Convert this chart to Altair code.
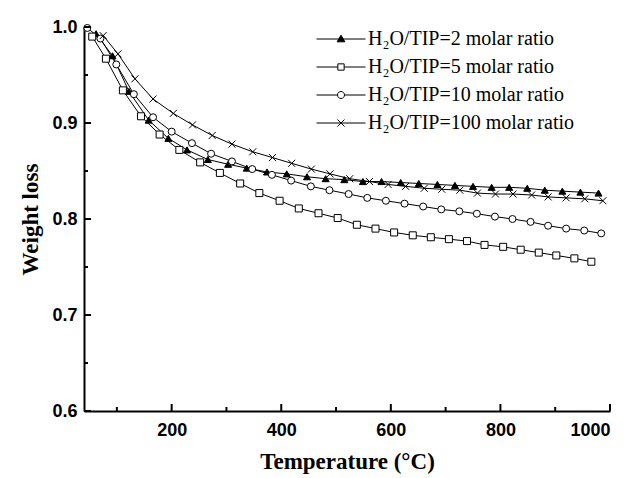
import altair as alt
import pandas as pd

series_names = ["H₂O/TIP=2 molar ratio", "H₂O/TIP=5 molar ratio",
                "H₂O/TIP=10 molar ratio", "H₂O/TIP=100 molar ratio"]

t_r2 = [62, 92, 122, 158, 194, 228, 266, 303, 337, 374, 410, 447, 481, 515, 549, 583,
        618, 651, 685, 717, 750, 784, 816, 849, 881, 913, 946, 979]
w_r2 = [0.993, 0.970, 0.933, 0.903, 0.884, 0.872, 0.862, 0.857, 0.853, 0.849, 0.847, 0.844,
        0.842, 0.841, 0.839, 0.839, 0.838, 0.837, 0.836, 0.835, 0.834, 0.833, 0.833, 0.832,
        0.830, 0.829, 0.828, 0.827]

t_r5 = [55, 80, 111, 144, 178, 214, 252, 288, 325, 360, 397, 432, 468, 503, 538, 572, 606,
        640, 673, 706, 739, 771, 805, 837, 870, 902, 935, 966]
w_r5 = [0.990, 0.967, 0.934, 0.907, 0.888, 0.872, 0.859, 0.848, 0.837, 0.827, 0.819, 0.811,
        0.806, 0.801, 0.794, 0.790, 0.786, 0.783, 0.781, 0.779, 0.777, 0.773, 0.771, 0.768,
        0.765, 0.762, 0.759, 0.7555]

t_r10 = [46, 70, 99, 131, 166, 200, 237, 272, 310, 347, 383, 418, 454, 488, 523, 557, 591,
         625, 659, 692, 725, 757, 790, 822, 855, 887, 920, 953, 984]
w_r10 = [0.999, 0.988, 0.961, 0.930, 0.906, 0.891, 0.879, 0.868, 0.860, 0.852, 0.846, 0.840,
         0.834, 0.830, 0.826, 0.822, 0.819, 0.816, 0.813, 0.810, 0.808, 0.8055, 0.8025, 0.800,
         0.797, 0.793, 0.790, 0.788, 0.785]

t_r100 = [75, 102, 133, 166, 203, 238, 274, 310, 348, 384, 419, 455, 489, 525, 561, 595, 627,
          661, 693, 726, 758, 791, 823, 857, 887, 920, 954, 987]
w_r100 = [0.991, 0.972, 0.946, 0.925, 0.910, 0.898, 0.887, 0.878, 0.870, 0.864, 0.858, 0.852,
          0.847, 0.842, 0.839, 0.836, 0.834, 0.832, 0.831, 0.830, 0.827, 0.826, 0.826, 0.825,
          0.823, 0.822, 0.821, 0.819]

x_major = [200, 400, 600, 800, 1000]
x_minor = [100, 300, 500, 700, 900]
y_major = [0.6, 0.7, 0.8, 0.9, 1.0]
y_minor = [0.65, 0.75, 0.85, 0.95]

rows = []
for name, ts, ws in zip(series_names, [t_r2, t_r5, t_r10, t_r100], [w_r2, w_r5, w_r10, w_r100]):
    for t, w in zip(ts, ws):
        rows.append({"series": name, "T": t, "W": w})
df = pd.DataFrame(rows)

W, H = 526, 384

xscale = alt.Scale(domain=[40, 1000], nice=False, zero=False)
yscale = alt.Scale(domain=[0.6, 1.0], nice=False, zero=False)

xenc = alt.X("T:Q", scale=xscale, axis=alt.Axis(
    values=x_major, format="d", ticks=False, grid=False, title="Temperature (°C)",
    labelFont="Liberation Sans", labelFontWeight="bold", labelFontSize=18, labelColor="black",
    labelPadding=10, domainColor="black", domainWidth=2,
    titleFont="Liberation Serif", titleFontSize=23, titleFontWeight="bold", titleColor="black",
    titlePadding=11))
yenc = alt.Y("W:Q", scale=yscale, axis=alt.Axis(
    values=y_major, format=".1f", ticks=False, grid=False, title="Weight loss",
    labelFont="Liberation Sans", labelFontWeight="bold", labelFontSize=18, labelColor="black",
    labelPadding=7, domainColor="black", domainWidth=2,
    titleFont="Liberation Serif", titleFontSize=23, titleFontWeight="bold", titleColor="black",
    titlePadding=9))

fills = ["black", "white", "white", "white"]
strokes = ["black", "black", "black", "black"]
plot_shapes = ["triangle-up", "square", "circle", "M-1,-1L1,1M-1,1L1,-1"]
legend_shapes = [
    "M-7,0H7M0,-1.1L1.1,0.8L-1.1,0.8Z",
    "M-7,0H-0.9M0.9,0H7M-0.9,-0.9H0.9V0.9H-0.9Z",
    "M-7,0H-1M1,0H7M1,0A1,1,0,1,1,-1,0A1,1,0,1,1,1,0Z",
    "M-7,0H7M-1,-1L1,1M-1,1L1,-1",
]

lines = alt.Chart(df).mark_line(color="black", strokeWidth=1).encode(
    x=xenc, y=yenc, detail="series:N")

points = alt.Chart(df).mark_point(filled=True, stroke="black", strokeWidth=1, opacity=1, size=49).encode(
    x=xenc, y=yenc,
    shape=alt.Shape("series:N", scale=alt.Scale(domain=series_names, range=plot_shapes), legend=None),
    fill=alt.Fill("series:N", scale=alt.Scale(domain=series_names, range=fills), legend=None),
)

leg_common = dict(title=None, orient="none", legendX=247, legendY=2, padding=0,
                  labelFont="Liberation Serif", labelFontSize=20, labelColor="black",
                  labelLimit=400,
                  symbolSize=49, symbolStrokeWidth=1,
                  symbolOffset=0, labelOffset=17, rowPadding=8, symbolOpacity=1)

legend_layer = alt.Chart(df).transform_filter("false").mark_point(
    filled=True, strokeWidth=1, opacity=1, size=49).encode(
    x=alt.X("T:Q", scale=xscale), y=alt.Y("W:Q", scale=yscale),
    shape=alt.Shape("series:N", scale=alt.Scale(domain=series_names, range=legend_shapes),
                    legend=alt.Legend(**leg_common)),
    fill=alt.Fill("series:N", scale=alt.Scale(domain=series_names, range=fills),
                  legend=alt.Legend(**leg_common)),
    stroke=alt.Stroke("series:N", scale=alt.Scale(domain=series_names, range=strokes),
                      legend=alt.Legend(**leg_common)),
)

xmaj = alt.Chart(pd.DataFrame({"T": x_major})).mark_rule(color="black", strokeWidth=2).encode(
    x=alt.X("T:Q", scale=xscale), y=alt.value(H), y2=alt.value(H - 7))
xmin = alt.Chart(pd.DataFrame({"T": x_minor})).mark_rule(color="black", strokeWidth=2).encode(
    x=alt.X("T:Q", scale=xscale), y=alt.value(H), y2=alt.value(H - 4))
ymaj = alt.Chart(pd.DataFrame({"W": y_major})).mark_rule(color="black", strokeWidth=2).encode(
    y=alt.Y("W:Q", scale=yscale), x=alt.value(0), x2=alt.value(7))
ymin = alt.Chart(pd.DataFrame({"W": y_minor})).mark_rule(color="black", strokeWidth=2).encode(
    y=alt.Y("W:Q", scale=yscale), x=alt.value(0), x2=alt.value(4))

chart = alt.layer(lines, points, legend_layer, xmaj, xmin, ymaj, ymin).resolve_scale(
    shape="independent", fill="independent", stroke="independent"
).properties(
    width=W, height=H,
    autosize=alt.AutoSizeParams(type="none"),
    padding={"left": 76, "top": 19, "right": 16, "bottom": 67},
    background="white",
).configure_view(stroke=None)

chart.save("out.html", embed_options={"renderer": "svg", "actions": False})
